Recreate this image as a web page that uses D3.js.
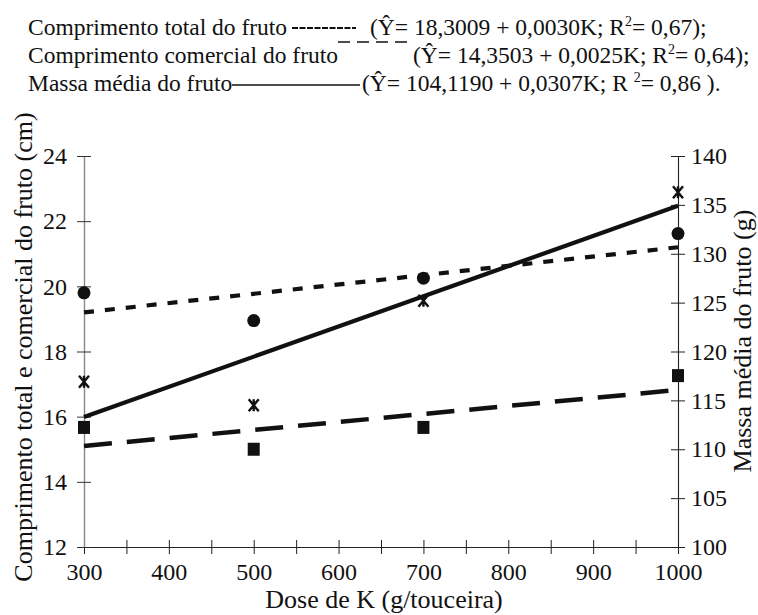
<!DOCTYPE html>
<html>
<head>
<meta charset="utf-8">
<script src="https://cdn.jsdelivr.net/npm/d3@7/dist/d3.min.js"></script>
<style>
  html, body { margin: 0; padding: 0; background: #fff; }
  svg { display: block; }
  text { font-family: "Liberation Serif", "Times New Roman", serif; fill: #111; }
</style>
</head>
<body>
<svg id="chart" width="758" height="615"></svg>
<script>
// ---- data ----
const doses = [300, 500, 700, 1000];
const totalLength = [19.8, 18.95, 20.25, 21.62];      // circles, left axis (cm)
const commercialLength = [15.67, 15.0, 15.67, 17.26]; // squares, left axis (cm)
const meanMass = [116.9, 114.5, 125.2, 136.3];        // star markers, right axis (g)

const fitDoses = [300, 1000];
const totalFit = [19.2, 21.2];
const commercialFit = [15.1, 16.82];
const massFit = [113.3, 134.9];

const xMajorTicks = [300, 400, 500, 600, 700, 800, 900, 1000];
const xAllTicks = [300, 350, 400, 450, 500, 550, 600, 650, 700, 750, 800, 850, 900, 950, 1000];
const leftTicks = [12, 14, 16, 18, 20, 22, 24];
const rightTicks = [100, 105, 110, 115, 120, 125, 130, 135, 140];

const legendNames = ["Comprimento total do fruto", "Comprimento comercial do fruto", "Massa média do fruto"];
const legendEq = [
  ["(Ŷ= 18,3009 + 0,0030K; R", "2", "= 0,67);"],
  ["(Ŷ= 14,3503 + 0,0025K; R", "2", "= 0,64);"],
  ["(Ŷ= 104,1190 + 0,0307K; R ", "2", "= 0,86 )."]
];

const xTitle = "Dose de K (g/touceira)";
const leftTitle = "Comprimento total e comercial do fruto (cm)";
const rightTitle = "Massa média do fruto (g)";

// ---- layout ----
const svg = d3.select("#chart");
const plotL = 84, plotR = 678, plotT = 156, plotB = 547;

const x = d3.scaleLinear().domain([300, 1000]).range([plotL, plotR]);
const yL = d3.scaleLinear().domain([12, 24]).range([plotB, plotT]);
const yR = d3.scaleLinear().domain([100, 140]).range([plotB, plotT]);

const tickFont = 24, titleFont = 26, legendFont = 23.5;

// x axis (all ticks, labels only at hundreds)
const gx = svg.append("g").attr("transform", `translate(0,${plotB})`)
  .call(d3.axisBottom(x).tickValues(xAllTicks).tickSizeInner(7).tickSizeOuter(0).tickPadding(9)
    .tickFormat(d => xMajorTicks.includes(d) ? d : ""));
gx.select(".domain").attr("stroke", "#222").attr("stroke-width", 1.2);
gx.selectAll(".tick line").attr("y1", -7).attr("y2", 7).attr("stroke", "#222");
gx.selectAll(".tick text").attr("font-size", tickFont).attr("font-family", "Liberation Serif").attr("fill", "#111");

// left axis
const gl = svg.append("g").attr("transform", `translate(${plotL},0)`)
  .call(d3.axisLeft(yL).tickValues(leftTicks).tickSizeInner(7).tickSizeOuter(0).tickPadding(10));
gl.select(".domain").attr("stroke", "#888").attr("stroke-width", 1.4);
gl.selectAll(".tick line").attr("x1", -7).attr("x2", 7).attr("stroke", "#333");
gl.selectAll(".tick text").attr("font-size", tickFont).attr("font-family", "Liberation Serif").attr("fill", "#111");

// right axis
const gr = svg.append("g").attr("transform", `translate(${plotR},0)`)
  .call(d3.axisRight(yR).tickValues(rightTicks).tickSizeInner(7).tickSizeOuter(0).tickPadding(6));
gr.select(".domain").attr("stroke", "#222").attr("stroke-width", 1.1);
gr.selectAll(".tick line").attr("x1", -7).attr("x2", 7).attr("stroke", "#222");
gr.selectAll(".tick text").attr("font-size", tickFont).attr("font-family", "Liberation Serif").attr("fill", "#111");

// ---- regression lines ----
function fitLine(vals, yScale) {
  return d3.line().x((d, i) => x(fitDoses[i])).y(d => yScale(d))(vals);
}
svg.append("path").attr("d", fitLine(totalFit, yL))
  .attr("fill", "none").attr("stroke", "#111").attr("stroke-width", 4.2).attr("stroke-dasharray", "10,11");
svg.append("path").attr("d", fitLine(commercialFit, yL))
  .attr("fill", "none").attr("stroke", "#111").attr("stroke-width", 4.5).attr("stroke-dasharray", "28,15");
svg.append("path").attr("d", fitLine(massFit, yR))
  .attr("fill", "none").attr("stroke", "#111").attr("stroke-width", 4.2);

// ---- markers ----
svg.append("g").selectAll("circle").data(totalLength).join("circle")
  .attr("cx", (d, i) => x(doses[i])).attr("cy", d => yL(d))
  .attr("r", 6.5).attr("fill", "#111");

svg.append("g").selectAll("rect").data(commercialLength).join("rect")
  .attr("x", (d, i) => x(doses[i]) - 6).attr("y", d => yL(d) - 6.5)
  .attr("width", 12).attr("height", 13).attr("fill", "#111");

const star = svg.append("g").selectAll("g").data(meanMass).join("g")
  .attr("transform", (d, i) => `translate(${x(doses[i])},${yR(d)})`);
star.append("path").attr("d", "M-5,-6L5,6M-5,6L5,-6M0,-6L0,6")
  .attr("stroke", "#111").attr("stroke-width", 2.4).attr("fill", "none");

// ---- axis titles ----
svg.append("text").attr("x", 384).attr("y", 608).attr("text-anchor", "middle")
  .attr("font-size", titleFont).text(xTitle);
svg.append("text").attr("transform", "translate(32,347) rotate(-90)").attr("text-anchor", "middle")
  .attr("font-size", titleFont).text(leftTitle);
svg.append("text").attr("transform", "translate(751,341) rotate(-90)").attr("text-anchor", "middle")
  .attr("font-size", titleFont).text(rightTitle);

// ---- legend (equations) ----
const legX = 28, legY = [35, 63, 91], eqX = [370, 413, 362];
legendNames.forEach((name, i) => {
  svg.append("text").attr("x", legX).attr("y", legY[i]).attr("font-size", legendFont).text(name);
  const t = svg.append("text").attr("x", eqX[i]).attr("y", legY[i]).attr("font-size", legendFont);
  t.append("tspan").text(legendEq[i][0]);
  t.append("tspan").attr("font-size", 14).attr("dy", -9).text(legendEq[i][1]);
  t.append("tspan").attr("dy", 9).text(legendEq[i][2]);
});
// legend line samples
svg.append("line").attr("x1", 292).attr("x2", 356).attr("y1", legY[0] - 7).attr("y2", legY[0] - 7)
  .attr("stroke", "#111").attr("stroke-width", 2.2).attr("stroke-dasharray", "6,1.5");
svg.append("line").attr("x1", 338).attr("x2", 410).attr("y1", legY[1] - 21).attr("y2", legY[1] - 21)
  .attr("stroke", "#111").attr("stroke-width", 1.3).attr("stroke-dasharray", "12,7");
svg.append("line").attr("x1", 232).attr("x2", 360).attr("y1", legY[2] - 6).attr("y2", legY[2] - 6)
  .attr("stroke", "#111").attr("stroke-width", 1.3);
</script>
</body>
</html>
